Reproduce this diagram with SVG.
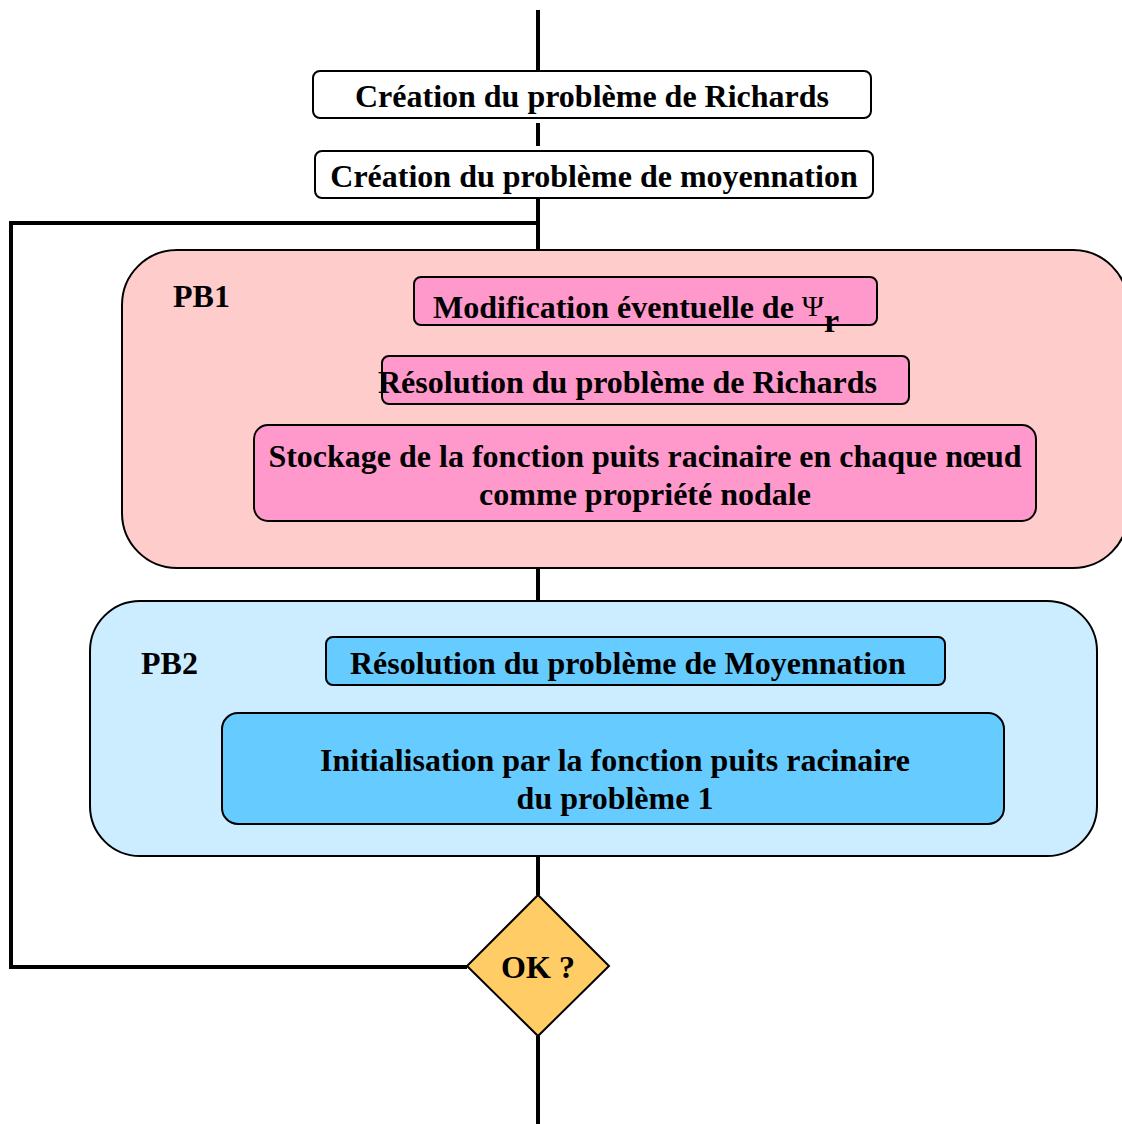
<svg xmlns="http://www.w3.org/2000/svg" width="1122" height="1124" viewBox="0 0 1122 1124">
<style>
text{font-family:"Liberation Serif","Times New Roman",serif;font-weight:bold;font-size:32px;fill:#000}
.box{stroke:#000;stroke-width:2}
.wire{stroke:#000;stroke-width:4;fill:none}
.c{text-anchor:middle}
</style>
<rect width="1122" height="1124" fill="#fff"/>
<g id="connectors">
<line class="wire" x1="538" y1="10" x2="538" y2="71"/>
<line class="wire" x1="538" y1="123" x2="538" y2="146"/>
<line class="wire" x1="538" y1="198" x2="538" y2="251"/>
<polyline class="wire" points="538,223 11,223 11,967 467,967"/>
<line class="wire" x1="538" y1="568" x2="538" y2="602"/>
<line class="wire" x1="538" y1="856" x2="538" y2="895"/>
<line class="wire" x1="538" y1="1036" x2="538" y2="1124"/>
</g>
<g id="creation-richards">
<rect class="box" x="313" y="71" width="558" height="47" rx="7" fill="#fff"/>
<text class="c" x="592" y="107">Création du problème de Richards</text>
</g>
<g id="creation-moyennation">
<rect class="box" x="315" y="151" width="558" height="47" rx="7" fill="#fff"/>
<text class="c" x="594" y="187">Création du problème de moyennation</text>
</g>
<g id="pb1">
<rect class="box" x="122" y="250" width="1006" height="318" rx="55" fill="#FFCCCC"/>
<text x="173" y="307">PB1</text>
</g>
<g id="modification">
<rect class="box" x="414" y="277" width="463" height="48" rx="7" fill="#FF99CC"/>
<text x="433" y="318">Modification éventuelle de <tspan font-weight="normal" font-size="30" dy="-2">Ψ</tspan><tspan dy="16" font-size="34">r</tspan></text>
</g>
<g id="resolution-richards">
<rect class="box" x="382" y="356" width="527" height="48" rx="7" fill="#FF99CC"/>
<text x="378" y="393">Résolution du problème de Richards</text>
</g>
<g id="stockage">
<rect class="box" x="254" y="425" width="782" height="96" rx="14" fill="#FF99CC"/>
<text class="c" x="645" y="467">Stockage de la fonction puits racinaire en chaque nœud</text>
<text class="c" x="645" y="505">comme propriété nodale</text>
</g>
<g id="pb2">
<rect class="box" x="90" y="601" width="1007" height="255" rx="50" fill="#CCECFF"/>
<text x="141" y="674">PB2</text>
</g>
<g id="resolution-moyennation">
<rect class="box" x="326" y="637" width="619" height="48" rx="7" fill="#66CCFF"/>
<text x="350" y="674">Résolution du problème de Moyennation</text>
</g>
<g id="initialisation">
<rect class="box" x="222" y="713" width="782" height="111" rx="16" fill="#66CCFF"/>
<text class="c" x="615" y="771">Initialisation par la fonction puits racinaire</text>
<text class="c" x="615" y="809">du problème 1</text>
</g>
<g id="ok">
<polygon class="box" points="538,895 609,966 538,1036 467,966" fill="#FFCC66"/>
<text class="c" x="538" y="978">OK ?</text>
</g>
</svg>
